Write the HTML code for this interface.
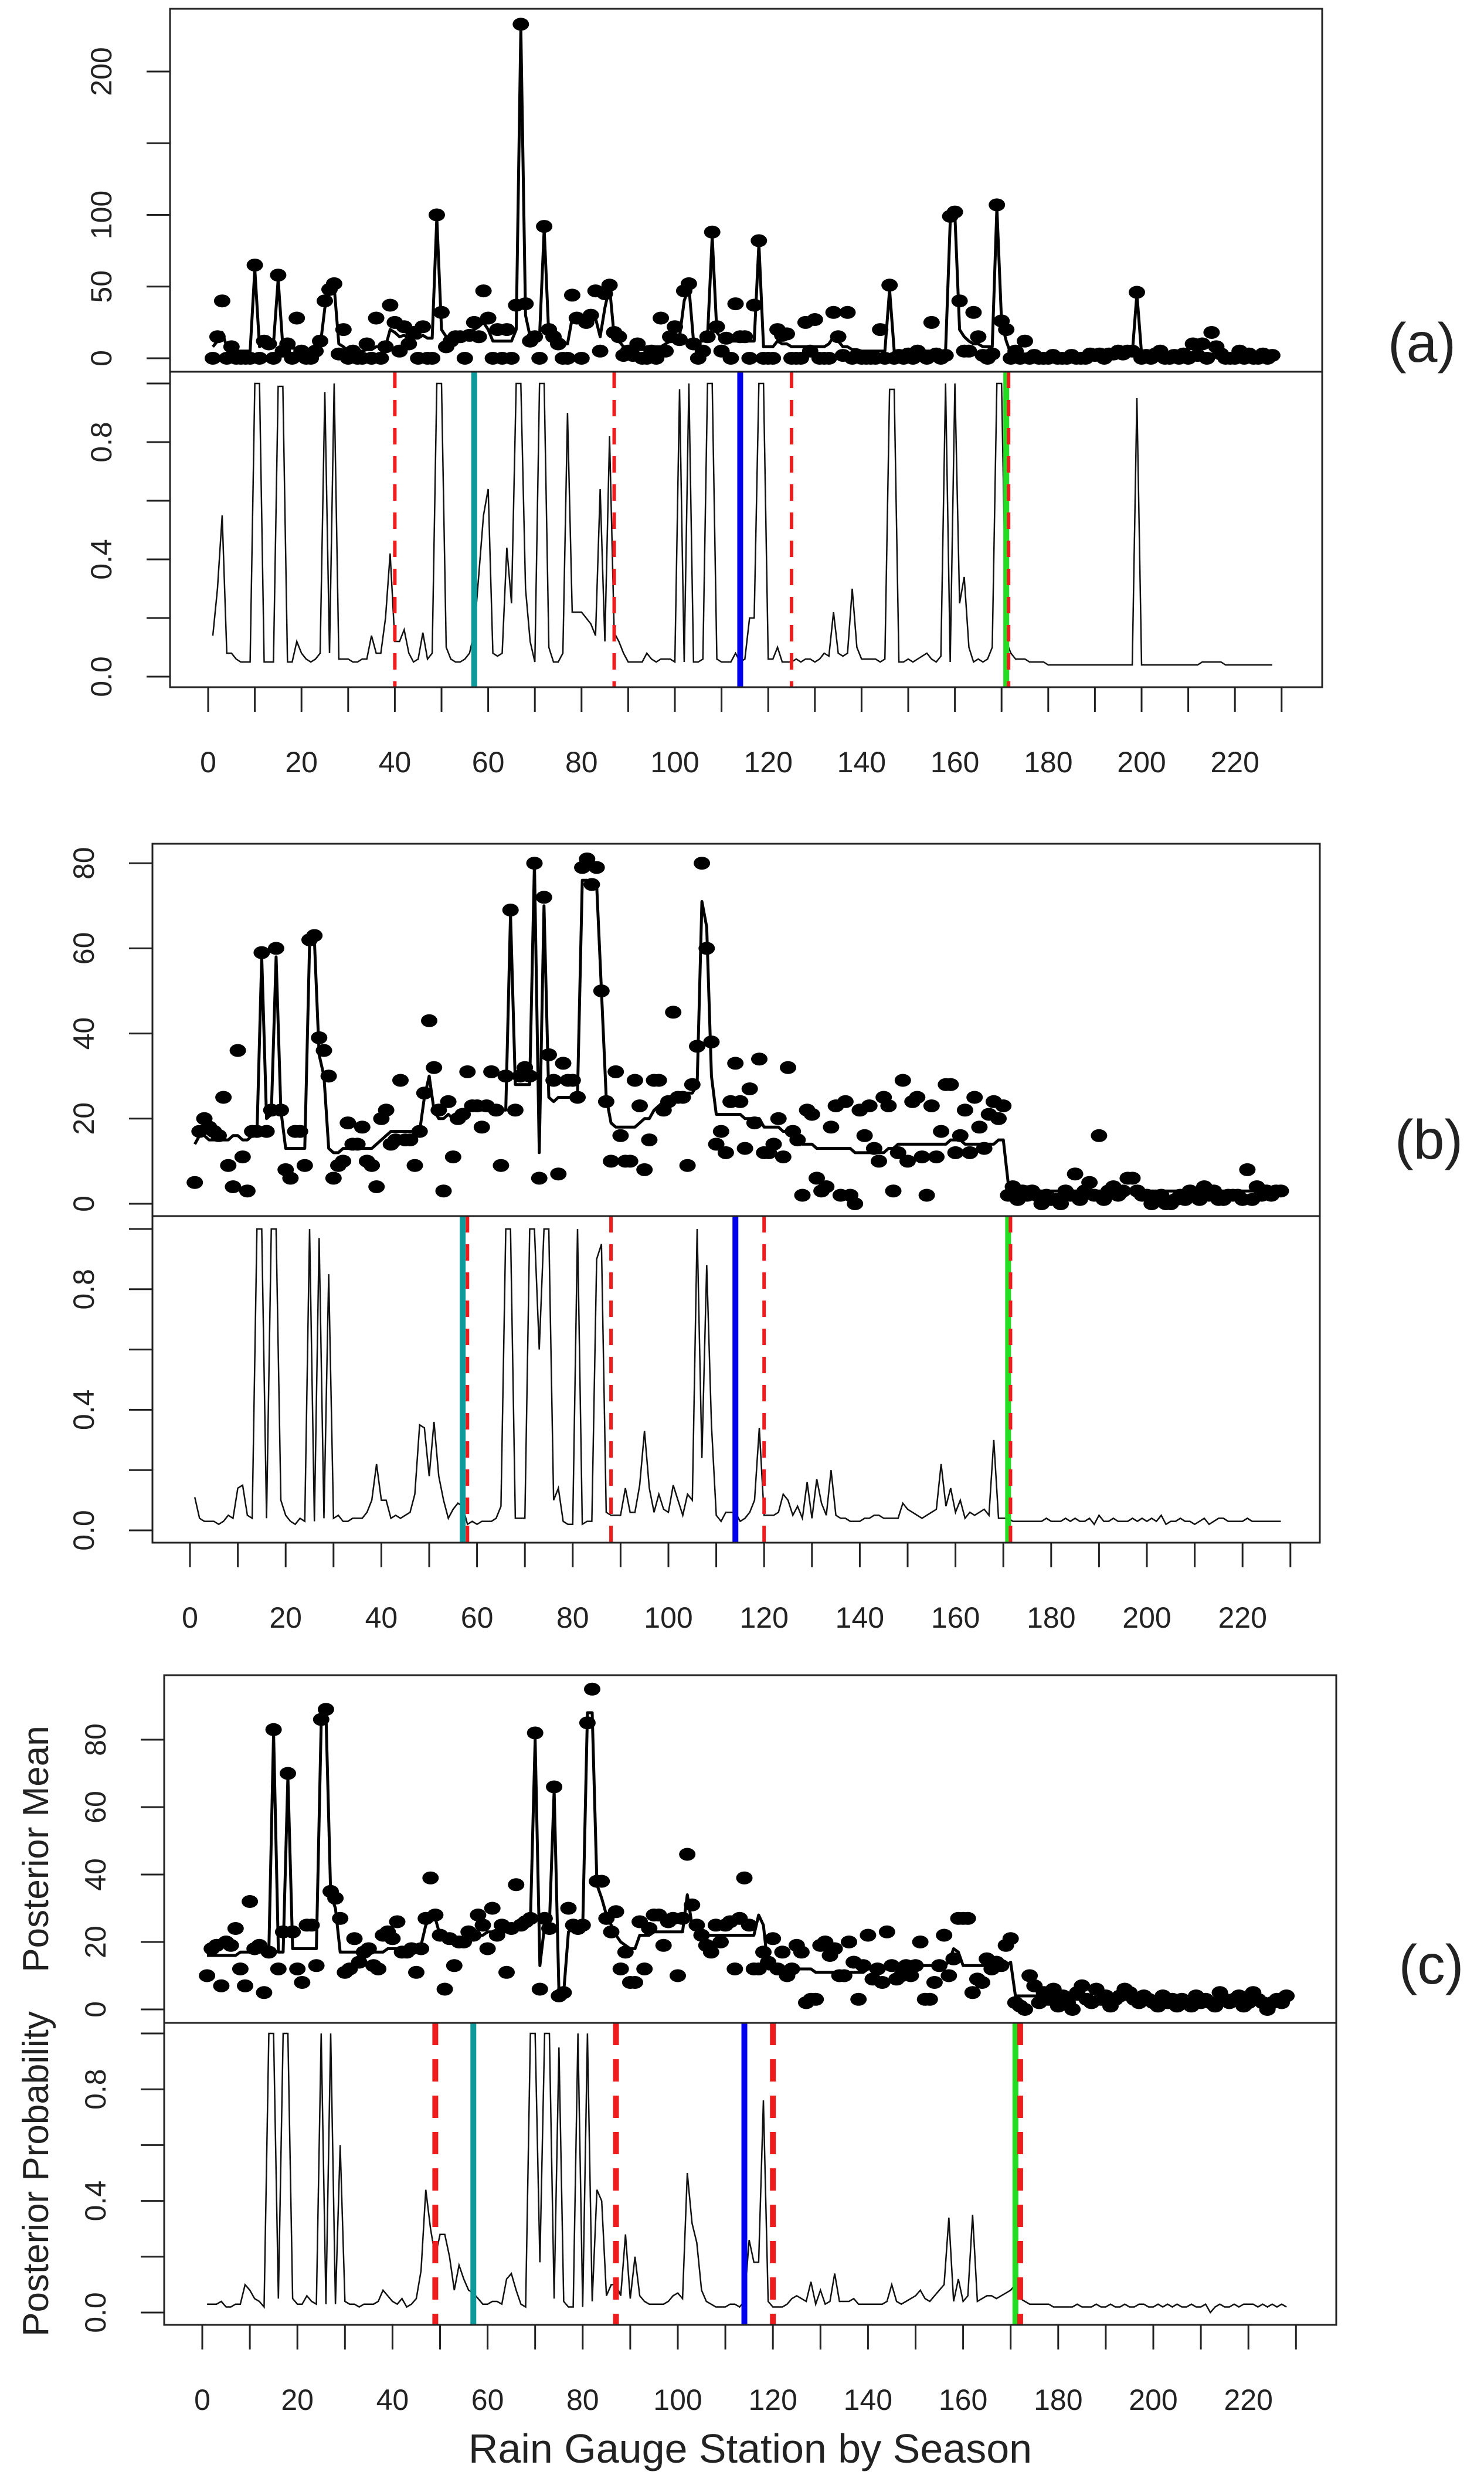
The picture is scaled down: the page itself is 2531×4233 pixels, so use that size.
<!DOCTYPE html>
<html><head><meta charset="utf-8"><style>
html,body{margin:0;padding:0;background:#fff;}
svg{display:block;}
text{font-family:"Liberation Sans",sans-serif;fill:#222;}
</style></head><body>
<svg id="chart" width="2531" height="4233" viewBox="0 0 2531 4233" xmlns="http://www.w3.org/2000/svg"></svg>
<script>
// ---- Panel (a) data ----
const aObs=[0,15,40,0,8,0,0,0,0,65,0,12,10,0,58,5,10,0,28,5,
0,0,5,12,40,48,52,3,20,0,5,0,0,10,0,28,0,8,37,25,
5,22,10,18,0,22,0,0,100,32,8,12,15,15,0,16,25,15,47,28,
0,20,0,20,0,37,233,38,12,15,0,92,20,15,10,0,0,44,28,0,
25,30,47,5,45,51,18,15,2,5,2,10,0,0,5,0,28,5,15,22,
13,47,52,10,0,5,15,88,22,5,14,0,38,15,15,0,37,82,0,0,
0,20,16,17,0,0,0,25,5,27,0,0,0,32,15,2,32,0,2,0,
0,0,0,20,0,51,0,2,0,3,0,5,2,0,25,3,0,2,99,102,
40,5,5,32,15,2,0,3,107,26,20,0,5,0,12,0,2,0,0,0,
2,0,0,0,2,0,0,0,3,2,3,0,3,3,5,3,5,5,46,0,
2,0,3,5,0,0,2,0,3,0,10,2,10,0,18,8,3,0,0,0,
5,0,3,0,0,3,0,2];
const aMean=[8,12,18,8,6,5,5,5,5,62,8,10,10,10,55,8,8,7,7,6,
6,6,6,8,35,45,50,10,8,5,5,5,5,6,6,8,8,8,20,18,
15,16,14,14,14,16,14,14,98,20,15,15,16,16,16,18,20,22,25,20,
12,12,12,12,12,20,230,30,15,15,15,90,15,12,10,10,10,28,25,25,
22,25,28,15,35,50,15,12,8,8,6,6,6,8,8,8,8,10,12,15,
15,40,50,12,12,12,15,85,18,14,14,12,12,12,12,12,12,80,8,8,
8,12,10,10,8,8,8,8,8,8,8,8,10,15,12,8,8,6,6,5,
5,5,5,5,5,48,5,5,5,5,5,5,5,5,5,5,5,5,95,100,
20,15,12,10,10,8,8,8,105,25,12,3,3,3,3,3,3,3,3,3,
3,3,3,3,3,3,3,3,3,3,3,3,3,3,3,3,3,3,45,3,
3,3,3,3,3,3,3,3,3,3,3,3,3,3,3,3,3,3,3,3,
3,3,3,3,3,3,3,3];
const aProb=[.14,.3,.55,.08,.08,.06,.05,.05,.05,1,1,.05,.05,.05,.99,.99,.05,.05,.12,.08,
.06,.05,.06,.08,.97,.08,1,.06,.06,.06,.05,.05,.06,.06,.14,.08,.08,.2,.42,.12,
.12,.16,.08,.05,.06,.15,.06,.08,1,1,.1,.06,.05,.05,.06,.08,.15,.35,.55,.64,
.08,.07,.08,.44,.25,1,1,.3,.12,.05,1,1,.1,.05,.05,.08,.9,.22,.22,.22,
.2,.18,.14,.64,.12,.82,.15,.12,.08,.05,.05,.05,.05,.08,.06,.05,.06,.06,.06,.05,
.98,.05,1,.05,.05,.06,1,1,.06,.05,.05,.05,.08,.05,.06,.2,.2,1,1,.06,
.06,.1,.05,.05,.05,.06,.05,.06,.06,.05,.06,.08,.07,.22,.08,.07,.08,.3,.1,.06,
.06,.06,.06,.05,.06,.98,.98,.05,.05,.06,.05,.06,.07,.08,.06,.05,.07,1,.05,1,
.25,.34,.1,.05,.06,.05,.06,.1,1,1,.12,.08,.06,.06,.06,.05,.05,.05,.05,.04,
.04,.04,.04,.04,.04,.04,.04,.04,.04,.04,.04,.04,.04,.04,.04,.04,.04,.04,.95,.04,
.04,.04,.04,.04,.04,.04,.04,.04,.04,.04,.04,.04,.05,.05,.05,.05,.05,.04,.04,.04,
.04,.04,.04,.04,.04,.04,.04,.04];
const aRed=[40,87,125,171.5];
const aTeal=[57], aBlue=[114], aGreen=[171];
// ---- Panel (b) data ----
const bObs=[5,17,20,18,17,16,25,9,4,36,11,3,17,17,59,17,22,60,22,8,
6,17,17,9,62,63,39,36,30,6,9,10,19,14,14,18,10,9,4,20,
22,14,15,29,15,15,9,17,26,43,32,22,3,24,11,20,21,31,23,23,
18,23,31,22,9,30,69,22,30,32,30,80,6,72,35,29,7,33,29,29,
25,79,81,75,79,50,24,10,31,16,10,10,29,23,8,15,29,29,22,24,
45,25,25,9,28,37,80,60,38,14,17,12,24,33,24,13,27,19,34,12,
12,14,20,11,32,17,15,2,22,21,6,3,4,18,23,2,24,2,0,22,
16,23,13,10,25,23,3,12,29,10,24,25,11,2,23,11,17,28,28,12,
16,22,12,25,18,13,21,24,20,23,2,4,1,3,2,3,2,0,2,1,
1,0,3,2,7,1,3,5,2,16,1,3,4,2,3,6,6,3,2,2,
0,1,2,0,0,1,2,1,3,2,1,4,2,3,1,1,2,2,2,1,
8,1,4,2,3,2,3,3];
const bMean=[14,16,16,15,15,15,15,15,16,16,15,15,16,16,58,20,21,58,22,13,
13,13,13,13,61,62,35,30,13,12,12,13,13,13,13,13,13,13,14,15,
16,17,17,17,17,17,17,17,25,30,22,20,20,21,20,21,22,22,22,22,
22,22,22,22,22,22,68,28,28,28,28,80,12,70,25,24,25,25,25,25,
26,76,76,75,75,50,25,19,18,18,18,18,18,19,20,20,22,23,24,24,
25,25,25,26,26,28,71,65,30,21,21,21,21,21,21,20,20,20,20,18,
18,18,18,17,17,16,15,14,14,14,13,13,13,13,13,13,13,13,12,12,
12,12,12,12,12,13,13,14,14,14,14,14,14,14,14,14,14,14,15,15,
15,14,14,14,14,14,14,14,15,15,5,4,4,4,4,4,3,3,3,3,
3,3,3,3,3,3,3,3,3,3,3,3,3,3,3,3,3,3,3,3,
3,3,3,3,3,3,3,3,3,3,3,3,3,3,3,3,3,3,3,3,
3,3,3,3,3,3,3,3];
const bProb=[.11,.04,.03,.03,.03,.02,.03,.05,.04,.14,.15,.05,.04,1,1,.04,1,1,.1,.05,
.03,.02,.04,.03,1,.03,.97,.04,.85,.04,.05,.03,.03,.04,.04,.04,.06,.1,.22,.1,
.1,.04,.05,.04,.05,.06,.12,.35,.34,.18,.36,.18,.1,.04,.07,.09,.08,.02,.03,.02,
.03,.03,.03,.04,.08,1,1,.04,.04,.04,1,1,.6,1,1,.1,.14,.03,.02,.02,
1,.02,.03,.03,.9,.95,.06,.05,.05,.05,.14,.06,.06,.15,.33,.14,.06,.12,.07,.06,
.15,.1,.05,.12,.1,1,.24,.88,.35,.05,.03,.06,.06,.06,.03,.04,.06,.1,.34,.05,
.05,.05,.06,.12,.1,.05,.08,.04,.16,.04,.17,.09,.05,.2,.05,.04,.04,.03,.03,.03,
.04,.04,.05,.05,.04,.04,.04,.04,.09,.07,.06,.05,.04,.05,.06,.07,.22,.08,.14,.06,
.1,.04,.06,.05,.06,.07,.05,.3,.04,.04,.04,.03,.03,.03,.03,.03,.03,.03,.04,.03,
.03,.03,.04,.03,.04,.03,.03,.04,.02,.05,.03,.03,.04,.03,.03,.03,.04,.03,.04,.03,
.04,.03,.05,.02,.03,.03,.04,.03,.03,.02,.03,.04,.02,.03,.04,.04,.03,.03,.03,.03,
.04,.03,.03,.03,.03,.03,.03,.03];
const bRed=[58,88,120,171.5];
const bTeal=[57], bBlue=[114], bGreen=[171];
// ---- Panel (c) data ----
const cObs=[10,18,19,7,20,19,24,12,7,32,18,19,5,17,83,12,23,70,23,12,
8,25,25,13,86,89,35,33,27,11,12,21,14,17,18,13,12,22,23,21,
26,17,17,18,11,18,27,39,28,22,6,21,13,20,20,23,22,28,25,18,
30,22,25,11,24,37,25,26,27,82,6,27,24,66,4,5,30,25,24,25,
85,95,38,38,27,23,29,12,17,8,8,26,12,24,28,28,19,26,27,10,
27,46,31,25,22,19,17,25,20,25,26,12,27,39,25,12,12,17,14,21,
12,17,10,12,19,17,2,3,3,19,20,16,18,10,10,20,14,3,13,22,
9,12,8,23,13,9,10,13,10,13,20,3,3,8,13,22,10,15,27,27,
27,5,9,8,15,12,14,13,19,21,2,1,0,10,7,2,5,3,6,1,
4,2,0,5,7,3,2,6,3,4,1,3,4,6,5,3,2,4,3,2,
1,4,2,3,1,3,2,1,4,2,3,2,1,5,3,2,3,4,1,2,
5,3,2,0,2,3,2,4];
const cMean=[16,16,16,16,16,16,16,17,17,17,17,17,17,17,82,17,17,69,18,18,
18,18,18,18,85,88,34,30,17,17,17,17,17,17,17,17,17,17,18,18,
18,18,18,18,19,19,25,27,27,22,21,21,21,21,21,21,22,22,22,23,
23,23,23,23,23,24,24,25,26,80,13,25,25,65,5,5,23,24,24,24,
88,88,37,33,28,25,22,20,19,18,18,22,22,22,23,23,23,23,23,23,
23,34,25,23,23,22,22,22,22,22,22,22,22,22,22,22,28,25,12,12,
12,12,12,12,12,12,12,12,11,11,11,11,11,11,11,11,11,11,11,12,
12,12,12,12,12,12,12,13,13,13,13,13,13,13,13,13,14,18,17,13,
13,13,13,13,13,13,13,13,13,14,4,4,4,4,4,4,4,4,4,4,
4,4,3,3,3,3,3,4,4,4,3,3,3,3,3,4,4,3,3,3,
3,3,3,3,3,3,3,3,3,3,3,3,3,3,3,3,3,3,3,3,
3,3,3,3,3,3,3,3];
const cProb=[.03,.03,.03,.04,.02,.02,.03,.03,.1,.08,.05,.04,.02,1,1,.05,1,1,.05,.03,
.03,.06,.04,.03,1,.03,1,.03,.6,.04,.03,.03,.02,.03,.03,.03,.04,.08,.06,.04,
.03,.05,.02,.03,.05,.15,.44,.3,.2,.28,.28,.2,.08,.17,.12,.08,.07,.05,.03,.03,
.04,.04,.03,.12,.14,.08,.03,.02,1,1,.18,1,1,.05,.95,.04,.02,.02,1,.02,
1,.04,.44,.4,.06,.1,.1,.06,.28,.05,.2,.06,.04,.03,.03,.03,.03,.04,.06,.07,
.05,.5,.32,.25,.08,.04,.03,.02,.02,.02,.03,.03,.02,.04,.26,.18,.18,.76,.04,.02,
.02,.02,.03,.05,.06,.05,.04,.11,.03,.08,.03,.04,.14,.04,.04,.04,.05,.03,.03,.03,
.03,.03,.03,.04,.1,.04,.03,.04,.05,.06,.08,.05,.04,.06,.08,.1,.34,.04,.12,.04,
.06,.35,.04,.05,.06,.06,.05,.06,.07,.08,.1,.05,.04,.03,.03,.03,.03,.03,.02,.02,
.02,.02,.02,.03,.02,.02,.02,.03,.02,.02,.03,.02,.02,.03,.02,.02,.03,.03,.02,.02,
.03,.02,.03,.02,.03,.02,.02,.03,.02,.02,.03,0,.02,.03,.02,.02,.03,.02,.03,.03,
.03,.02,.03,.02,.03,.02,.03,.02];
const cRed=[49,87,120,172];
const cTeal=[57], cBlue=[114], cGreen=[171];
// tick labels
const xTickLabels=[0,20,40,60,80,100,120,140,160,180,200,220];
const aTopTicks=[0,50,100,150,200], aTopLabels=[0,50,100,200];
const bcTopTicks=[0,20,40,60,80];
const probTicks=[0,0.2,0.4,0.6,0.8,1.0], probLabels=[0,0.4,0.8];

const NS="http://www.w3.org/2000/svg";
const svg=document.getElementById('chart');
function mk(tag,attrs,parent){const e=document.createElementNS(NS,tag);for(const k in attrs)e.setAttribute(k,attrs[k]);(parent||svg).appendChild(e);return e;}

const panels=[
 {id:'a',L:290,R:2255,T:15,S:634,B:1172,x0:355,xs:7.96,ty0:611,tys:2.445,by0:1154,bys:500,
  obs:aObs,mean:aMean,prob:aProb,red:aRed,teal:aTeal,blue:aBlue,green:aGreen,
  tTicks:aTopTicks,tLabels:aTopLabels,dash:'28,20',rw:6,lab:'(a)',lx:2425,ly:585,yt:false},
 {id:'b',L:260,R:2251,T:1439,S:2074,B:2631,x0:324,xs:8.16,ty0:2053,tys:7.26,by0:2610,bys:514,
  obs:bObs,mean:bMean,prob:bProb,red:bRed,teal:bTeal,blue:bBlue,green:bGreen,
  tTicks:bcTopTicks,tLabels:bcTopTicks,dash:'28,20',rw:6,lab:'(b)',lx:2437,ly:1944,yt:false},
 {id:'c',L:280,R:2279,T:2857,S:3450,B:3965,x0:345,xs:8.11,ty0:3427,tys:5.75,by0:3944,bys:476,
  obs:cObs,mean:cMean,prob:cProb,red:cRed,teal:cTeal,blue:cBlue,green:cGreen,
  tTicks:bcTopTicks,tLabels:bcTopTicks,dash:'38,24',rw:10,lab:'(c)',lx:2441,ly:3351,yt:true}
];

panels.forEach(p=>{
  const g=mk('g',{});
  
  
  const X=i=>p.x0+i*p.xs, YT=v=>p.ty0-v*p.tys, YB=v=>p.by0-v*p.bys;
  const mp=p.mean.map((v,i)=>(i?'L':'M')+X(i+1).toFixed(1)+' '+YT(v).toFixed(1)).join('');
  const ml=mk('path',{d:mp,fill:'none',stroke:'#000','stroke-width':5,'stroke-linejoin':'round'},g);
  
  
  p.obs.forEach((v,i)=>{
    const c=mk('ellipse',{cx:X(i+1).toFixed(1),cy:YT(v).toFixed(1),rx:14,ry:11,fill:'#000'},g);
    
    
  });
  const pp=p.prob.map((v,i)=>(i?'L':'M')+X(i+1).toFixed(1)+' '+YB(v).toFixed(1)).join('');
  const pl=mk('path',{d:pp,fill:'none',stroke:'#111','stroke-width':2.5},g);
  
  
  const vl=(arr,col,w,dash,name)=>arr.forEach(v=>{
    const a={x1:X(v),x2:X(v),y1:p.S,y2:p.B,stroke:col,'stroke-width':w};
    if(dash)a['stroke-dasharray']=dash;
    const l=mk('line',a,g);
    
    
  });
  vl(p.teal,'#0e9a9a',10,null,'teal-changepoint-line');
  vl(p.blue,'#0000ee',10,null,'blue-changepoint-line');
  vl(p.green,'#22dd22',10,null,'green-changepoint-line');
  vl(p.red,'#ee1c1c',p.rw,p.dash,'red-dashed-changepoint-line');
  const f1=mk('rect',{x:p.L,y:p.T,width:p.R-p.L,height:p.S-p.T,fill:'none',stroke:'#222','stroke-width':3},g);
  
  
  const f2=mk('rect',{x:p.L,y:p.S,width:p.R-p.L,height:p.B-p.S,fill:'none',stroke:'#222','stroke-width':3},g);
  
  
  for(let t=0;t<=230;t+=10){
    const l=mk('line',{x1:X(t),x2:X(t),y1:p.B,y2:p.B+42,stroke:'#222','stroke-width':3},g);
    
    
  }
  xTickLabels.forEach(t=>{
    const tx=mk('text',{x:X(t),y:p.B+145,'font-size':50,'text-anchor':'middle'},g);
    tx.textContent=t;
    
    
  });
  p.tTicks.forEach(t=>{
    const l=mk('line',{x1:p.L-40,x2:p.L,y1:YT(t),y2:YT(t),stroke:'#222','stroke-width':3},g);
    
    
  });
  p.tLabels.forEach(t=>{
    const lx=p.L-100, ly=YT(t);
    const tx=mk('text',{x:lx,y:ly,'font-size':50,'text-anchor':'middle',transform:`rotate(-90 ${lx} ${ly})`},g);
    tx.textContent=t;
    
    
  });
  probTicks.forEach(t=>{
    const l=mk('line',{x1:p.L-40,x2:p.L,y1:YB(t),y2:YB(t),stroke:'#222','stroke-width':3},g);
    
    
  });
  probLabels.forEach(t=>{
    const lx=p.L-100, ly=YB(t);
    const tx=mk('text',{x:lx,y:ly,'font-size':50,'text-anchor':'middle',transform:`rotate(-90 ${lx} ${ly})`},g);
    tx.textContent=t.toFixed(1);
    
    
  });
  const pl2=mk('text',{x:p.lx,y:p.ly+32,'font-size':95,'text-anchor':'middle'},g);
  pl2.textContent=p.lab;
  
  
  if(p.yt){
    const y1=(p.T+p.S)/2, y2=(p.S+p.B)/2;
    const t1=mk('text',{x:82,y:y1,'font-size':62,'text-anchor':'middle',transform:`rotate(-90 82 ${y1})`},g);
    t1.textContent='Posterior Mean';
    
    
    const t2=mk('text',{x:82,y:y2,'font-size':62,'text-anchor':'middle',transform:`rotate(-90 82 ${y2})`},g);
    t2.textContent='Posterior Probability';
    
    
    const xt=mk('text',{x:(p.L+p.R)/2,y:4200,'font-size':70,'text-anchor':'middle'},g);
    xt.textContent='Rain Gauge Station by Season';
    
    
  }
});
</script>
</body></html>
